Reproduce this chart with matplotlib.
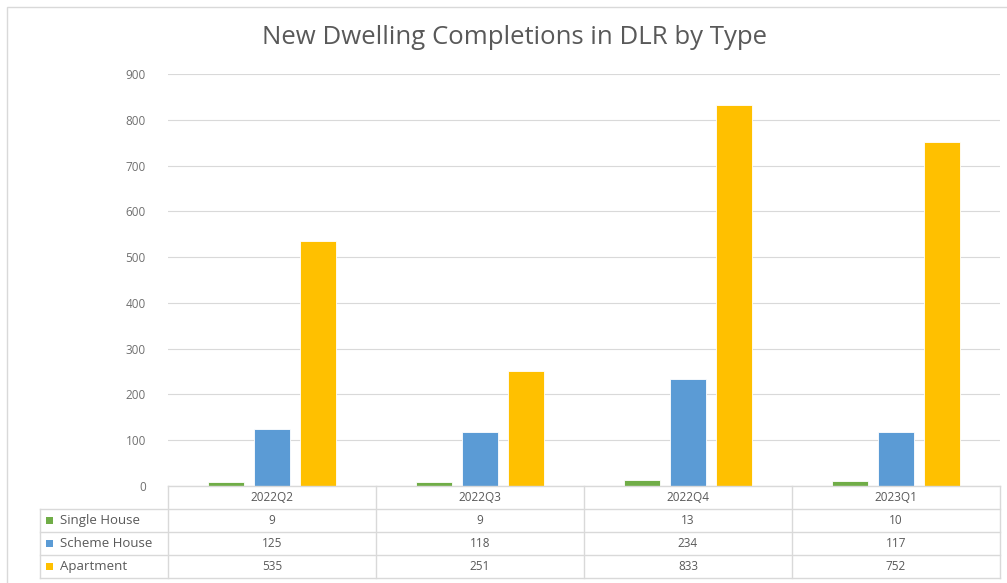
import numpy as np
import matplotlib
matplotlib.use("Agg")
import matplotlib.pyplot as plt
from matplotlib.patches import Rectangle

plt.rcParams['font.family'] = ['Open Sans', 'DejaVu Sans']

quarters = ['2022Q2', '2022Q3', '2022Q4', '2023Q1']
series_names = ['Single House', 'Scheme House', 'Apartment']
single_house = [9, 9, 13, 10]
scheme_house = [125, 118, 234, 117]
apartment = [535, 251, 833, 752]
colors = ['#70AD47', '#5B9BD5', '#FFC000']
yticks = [0, 100, 200, 300, 400, 500, 600, 700, 800, 900]

W, H = 1007, 583
fig = plt.figure(figsize=(W / 100, H / 100), dpi=100)

# chart frame (cut off at right and bottom)
fig.patches.append(Rectangle((7 / W, -0.05), 1.1, 1 - 7 / H + 0.05, transform=fig.transFigure,
                             fill=False, edgecolor='#D9D9D9', linewidth=1))

ax = fig.add_axes([168 / W, 1 - 486 / H, 832 / W, 412 / H])
series = [single_house, scheme_house, apartment]
x = np.arange(len(quarters))
bw = 0.175
step = 0.22
for i, (vals, c) in enumerate(zip(series, colors)):
    ax.bar(x + (i - 1) * step, vals, width=bw, color=c, edgecolor='white', linewidth=0.6, zorder=3)

ax.set_xlim(-0.5, len(quarters) - 0.5)
ax.set_ylim(0, 900)
ax.set_yticks(yticks)
ax.set_yticklabels([str(v) for v in yticks], fontsize=8.5, color='#707070')
ax.tick_params(axis='y', length=0, pad=16)
ax.tick_params(axis='x', length=0, labelbottom=False)
ax.grid(axis='y', color='#D9D9D9', linewidth=0.8, zorder=0)
for s in ax.spines.values():
    s.set_visible(False)

fig.text(514 / W, 1 - 38 / H, 'New Dwelling Completions in DLR by Type', ha='center', va='center',
         fontsize=18.5, color='#595959')

# data table below the axis
line_kw = dict(color='#D9D9D9', linewidth=1, transform=fig.transFigure)
left, x0, col_w = 40, 168, 208
x1 = x0 + col_w * len(quarters)
row_h = 23
y_top = 486
rows_y = [y_top + row_h * k for k in range(len(series) + 2)]

def fx(px):
    return px / W

def fy(py):
    return 1 - py / H

fig.add_artist(plt.Line2D([fx(x0), fx(x1)], [fy(rows_y[0])] * 2, **line_kw))
for k in range(1, len(rows_y)):
    fig.add_artist(plt.Line2D([fx(left), fx(x1)], [fy(rows_y[k])] * 2, **line_kw))
fig.add_artist(plt.Line2D([fx(left)] * 2, [fy(rows_y[1]), fy(rows_y[-1])], **line_kw))
for j in range(len(quarters) + 1):
    xx = x0 + col_w * j
    fig.add_artist(plt.Line2D([fx(xx)] * 2, [fy(rows_y[0]), fy(rows_y[-1])], **line_kw))

for j, q in enumerate(quarters):
    fig.text(fx(x0 + col_w * (j + 0.5)), fy(rows_y[0] + row_h / 2), q, ha='center', va='center',
             fontsize=8.5, color='#595959')

for i, (name, vals, c) in enumerate(zip(series_names, series, colors)):
    yc = fy(rows_y[i + 1] + row_h / 2)
    fig.patches.append(Rectangle((fx(46), yc - 3.5 / H), 7 / W, 7 / H, transform=fig.transFigure,
                                 facecolor=c, edgecolor='none'))
    fig.text(fx(60), yc, name, ha='left', va='center', fontsize=9.5, color='#595959')
    for j, v in enumerate(vals):
        fig.text(fx(x0 + col_w * (j + 0.5)), yc, str(v), ha='center', va='center',
                 fontsize=8.5, color='#595959')

fig.savefig('out.png', dpi=100)
